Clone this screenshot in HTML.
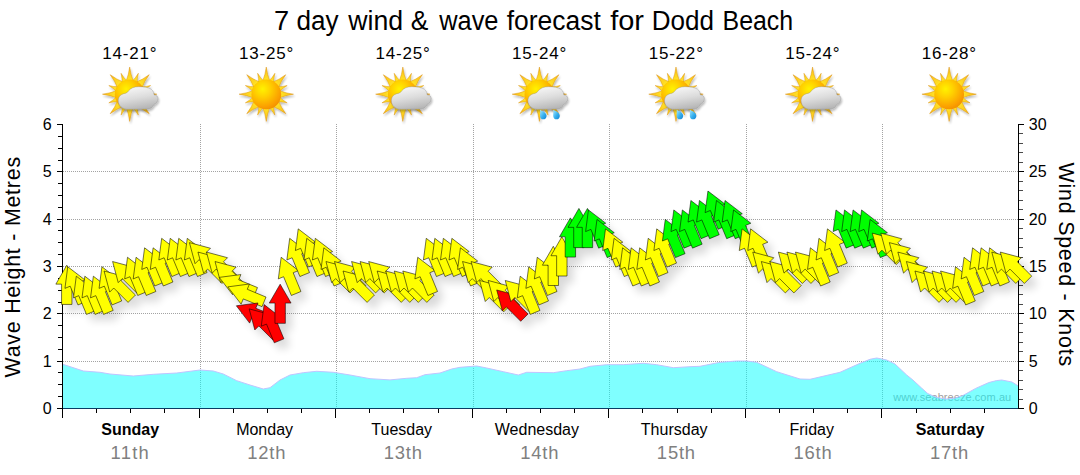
<!DOCTYPE html>
<html><head><meta charset="utf-8"><title>7 day wind &amp; wave forecast for Dodd Beach</title>
<style>html,body{margin:0;padding:0;background:#fff;}body{width:1080px;height:475px;overflow:hidden;font-family:"Liberation Sans",sans-serif;}svg{display:block;}text{font-family:"Liberation Sans",sans-serif;}</style>
</head><body>
<svg width="1080" height="475" viewBox="0 0 1080 475">
<defs>
<filter id="sh" x="-5%" y="-20%" width="110%" height="160%"><feGaussianBlur in="SourceAlpha" stdDeviation="4.5"/><feOffset dx="6" dy="7" result="b"/><feComponentTransfer><feFuncA type="linear" slope="0.15"/></feComponentTransfer><feMerge><feMergeNode/><feMergeNode in="SourceGraphic"/></feMerge></filter>
<radialGradient id="sunG" cx="0.38" cy="0.32" r="0.75"><stop offset="0" stop-color="#fff200"/><stop offset="0.35" stop-color="#ffd000"/><stop offset="0.8" stop-color="#fb9f05"/><stop offset="1" stop-color="#f08c00"/></radialGradient>
<radialGradient id="rayG" cx="0.5" cy="0.5" r="0.5"><stop offset="0.5" stop-color="#ffe428"/><stop offset="0.85" stop-color="#fdc81c"/><stop offset="1" stop-color="#f6a81c"/></radialGradient>
<linearGradient id="cloudG" x1="0.3" y1="0" x2="0.6" y2="1"><stop offset="0" stop-color="#f8f8f8"/><stop offset="0.5" stop-color="#dcdcdc"/><stop offset="1" stop-color="#b4b4b4"/></linearGradient>
<linearGradient id="dropG" x1="0" y1="0" x2="1" y2="1"><stop offset="0" stop-color="#a8e6ff"/><stop offset="0.55" stop-color="#35b0ee"/><stop offset="1" stop-color="#1480d0"/></linearGradient>
<filter id="ish" x="-20%" y="-20%" width="150%" height="150%"><feGaussianBlur in="SourceAlpha" stdDeviation="1"/><feOffset dx="1" dy="1.5" result="b"/><feComponentTransfer><feFuncA type="linear" slope="0.28"/></feComponentTransfer><feMerge><feMergeNode/><feMergeNode in="SourceGraphic"/></feMerge></filter>
<g id="sun"><path d="M3.6 -13 Q1.01 -19.39 0 -27.2 Q-1.01 -19.39 -3.6 -13Z M7.47 -10.98 Q7.33 -15.71 8.65 -20.88 Q5.93 -16.29 2.48 -13.04Z M12.09 -6.29 Q14.65 -13.03 19.52 -19.52 Q13.03 -14.65 6.29 -12.09Z M13.04 -2.48 Q16.29 -5.93 20.88 -8.65 Q15.71 -7.33 10.98 -7.47Z M13 3.6 Q19.39 1.01 27.2 -0 Q19.39 -1.01 13 -3.6Z M10.98 7.47 Q15.71 7.33 20.88 8.65 Q16.29 5.93 13.04 2.48Z M6.29 12.09 Q13.03 14.65 19.52 19.52 Q14.65 13.03 12.09 6.29Z M2.48 13.04 Q5.93 16.29 8.65 20.88 Q7.33 15.71 7.47 10.98Z M-3.6 13 Q-1.01 19.39 0 27.2 Q1.01 19.39 3.6 13Z M-7.47 10.98 Q-7.33 15.71 -8.65 20.88 Q-5.93 16.29 -2.48 13.04Z M-12.09 6.29 Q-14.65 13.03 -19.52 19.52 Q-13.03 14.65 -6.29 12.09Z M-13.04 2.48 Q-16.29 5.93 -20.88 8.65 Q-15.71 7.33 -10.98 7.47Z M-13 -3.6 Q-19.39 -1.01 -27.2 0 Q-19.39 1.01 -13 3.6Z M-10.98 -7.47 Q-15.71 -7.33 -20.88 -8.65 Q-16.29 -5.93 -13.04 -2.48Z M-6.29 -12.09 Q-13.03 -14.65 -19.52 -19.52 Q-14.65 -13.03 -12.09 -6.29Z M-2.48 -13.04 Q-5.93 -16.29 -8.65 -20.88 Q-7.33 -15.71 -7.47 -10.98Z" fill="url(#rayG)" stroke="#d8920c" stroke-width="0.45"/><circle cx="0" cy="0.2" r="14.9" fill="url(#sunG)"/></g>
<path id="cloud" d="M-11.5 6.5 C-11.5 2 -8 -0.5 -4.5 -0.8 C-3 -1.2 -1.8 -2.2 -1.2 -3.3 C0.8 -6 4.5 -7.5 9 -7.5 C14 -7.5 19 -6.8 21.5 -5 C22.8 -4 23.6 -3 23.9 -1.7 L24.4 0.7 C26.8 0.8 28.4 2.4 28.4 4.4 C28.4 7.2 26.5 9.4 24 10.4 C23.4 12.8 21 14.9 17.5 14.9 L-2 15.1 C-7 15.1 -11.5 11.5 -11.5 6.5 Z"/>
<path id="drop" d="M-3.3 -5 C-1 -4 3.3 -2 3.3 1.1 C3.3 3.1 1.8 4.5 0 4.5 C-1.8 4.5 -3.3 3.1 -3.3 1.1 C-3.3 -1.1 -2.9 -2.9 -3.3 -5 Z"/>
</defs>
<g font-size="27" fill="#000">
<text x="273.99" y="29.6" textLength="15.12" lengthAdjust="spacingAndGlyphs">7</text>
<text x="296.43" y="29.6" textLength="42.08" lengthAdjust="spacingAndGlyphs">day</text>
<text x="348.3" y="29.6" textLength="54.88" lengthAdjust="spacingAndGlyphs">wind</text>
<text x="410.72" y="29.6" textLength="17.58" lengthAdjust="spacingAndGlyphs">&amp;</text>
<text x="439.2" y="29.6" textLength="59.24" lengthAdjust="spacingAndGlyphs">wave</text>
<text x="506.7" y="29.6" textLength="94.1" lengthAdjust="spacingAndGlyphs">forecast</text>
<text x="610.2" y="29.6" textLength="33.84" lengthAdjust="spacingAndGlyphs">for</text>
<text x="651.77" y="29.6" textLength="62.28" lengthAdjust="spacingAndGlyphs">Dodd</text>
<text x="722.56" y="29.6" textLength="70.62" lengthAdjust="spacingAndGlyphs">Beach</text>
</g>
<text x="129.5" y="59.1" font-size="17" text-anchor="middle" fill="#000" textLength="54.3" lengthAdjust="spacing">14-21°</text>
<g transform="translate(129.7 94.2)">
<use href="#sun" filter="url(#ish)"/>
<use href="#cloud" fill="url(#cloudG)" stroke="#909090" stroke-width="0.4" filter="url(#ish)"/>
</g>
<text x="266.07" y="59.1" font-size="17" text-anchor="middle" fill="#000" textLength="54.3" lengthAdjust="spacing">13-25°</text>
<g transform="translate(266.27 94.2)">
<use href="#sun" filter="url(#ish)"/>
</g>
<text x="402.64" y="59.1" font-size="17" text-anchor="middle" fill="#000" textLength="54.3" lengthAdjust="spacing">14-25°</text>
<g transform="translate(402.84 94.2)">
<use href="#sun" filter="url(#ish)"/>
<use href="#cloud" fill="url(#cloudG)" stroke="#909090" stroke-width="0.4" filter="url(#ish)"/>
</g>
<text x="539.21" y="59.1" font-size="17" text-anchor="middle" fill="#000" textLength="54.3" lengthAdjust="spacing">15-24°</text>
<g transform="translate(539.41 94.2)">
<use href="#sun" filter="url(#ish)"/>
<use href="#cloud" fill="url(#cloudG)" stroke="#909090" stroke-width="0.4" filter="url(#ish)"/>
<use href="#drop" x="3.9" y="20.6" fill="url(#dropG)"/>
<use href="#drop" x="17.1" y="20.6" fill="url(#dropG)"/>
</g>
<text x="675.79" y="59.1" font-size="17" text-anchor="middle" fill="#000" textLength="54.3" lengthAdjust="spacing">15-22°</text>
<g transform="translate(675.99 94.2)">
<use href="#sun" filter="url(#ish)"/>
<use href="#cloud" fill="url(#cloudG)" stroke="#909090" stroke-width="0.4" filter="url(#ish)"/>
<use href="#drop" x="3.9" y="20.6" fill="url(#dropG)"/>
<use href="#drop" x="17.1" y="20.6" fill="url(#dropG)"/>
</g>
<text x="812.36" y="59.1" font-size="17" text-anchor="middle" fill="#000" textLength="54.3" lengthAdjust="spacing">15-24°</text>
<g transform="translate(812.56 94.2)">
<use href="#sun" filter="url(#ish)"/>
<use href="#cloud" fill="url(#cloudG)" stroke="#909090" stroke-width="0.4" filter="url(#ish)"/>
</g>
<text x="948.93" y="59.1" font-size="17" text-anchor="middle" fill="#000" textLength="54.3" lengthAdjust="spacing">16-28°</text>
<g transform="translate(949.13 94.2)">
<use href="#sun" filter="url(#ish)"/>
</g>
<path d="M63 361.5H1018 M63 313.5H1018 M63 266.5H1018 M63 219.5H1018 M63 171.5H1018 M200.5 124V408 M336.5 124V408 M473.5 124V408 M609.5 124V408 M746.5 124V408 M882.5 124V408" stroke="#8c8c8c" stroke-opacity="0.8" stroke-width="1" stroke-dasharray="1 1" fill="none" shape-rendering="crispEdges"/>
<text x="952.2" y="400.7" font-size="11" text-anchor="middle" fill="#a0a0a0" textLength="118" lengthAdjust="spacing">www.seabreeze.com.au</text>
<polygon points="62,364 83.3,371 100,372.3 110,374 133.3,376 153.3,374.3 176.7,373 200,370 213.3,371 223.3,374 236.7,380.7 250,385 263.3,389 270,387.7 280,380 290,375 303.3,372.7 316.7,371.3 333.3,372.3 350,375 370,378.7 390,379.9 406.7,378.3 416.7,377.7 425,374.7 440,373 451.7,369 460,367.3 476.7,366 486.7,368 503.3,371.7 518.3,375 526.7,372.3 553.3,372.7 566.7,370.7 580,369 590,366.3 606.7,364.7 623.3,364.7 643.3,363.3 656.7,364.7 673.3,367.7 690,366.7 700,366.3 720,362.3 736.7,361 746.7,361 756.7,362.3 776.7,371.7 800,379 810,379.3 840,372.3 860,363.3 870,359.3 876.7,358 886.7,360 895,364 906.7,375 912.9,380 921.3,387.8 927.8,393.6 936.9,397.5 945.9,399.1 955,398.1 962.8,395.6 975.7,388.4 988.7,382.6 996.5,380.6 1001.7,380 1012,382 1018,385.8 1018.5,408.5 62.5,408.5" fill="#00ffff" fill-opacity="0.5"/>
<polyline points="62,364 83.3,371 100,372.3 110,374 133.3,376 153.3,374.3 176.7,373 200,370 213.3,371 223.3,374 236.7,380.7 250,385 263.3,389 270,387.7 280,380 290,375 303.3,372.7 316.7,371.3 333.3,372.3 350,375 370,378.7 390,379.9 406.7,378.3 416.7,377.7 425,374.7 440,373 451.7,369 460,367.3 476.7,366 486.7,368 503.3,371.7 518.3,375 526.7,372.3 553.3,372.7 566.7,370.7 580,369 590,366.3 606.7,364.7 623.3,364.7 643.3,363.3 656.7,364.7 673.3,367.7 690,366.7 700,366.3 720,362.3 736.7,361 746.7,361 756.7,362.3 776.7,371.7 800,379 810,379.3 840,372.3 860,363.3 870,359.3 876.7,358 886.7,360 895,364 906.7,375 912.9,380 921.3,387.8 927.8,393.6 936.9,397.5 945.9,399.1 955,398.1 962.8,395.6 975.7,388.4 988.7,382.6 996.5,380.6 1001.7,380 1012,382 1018,385.8" fill="none" stroke="#c0c4ff" stroke-width="1"/>
<path d="M1019 399.5H1023 M1019 389.5H1023 M1019 380.5H1023 M1019 370.5H1023 M1019 351.5H1023 M1019 342.5H1023 M1019 332.5H1023 M1019 323.5H1023 M1019 304.5H1023 M1019 294.5H1023 M1019 285.5H1023 M1019 275.5H1023 M1019 257.5H1023 M1019 247.5H1023 M1019 238.5H1023 M1019 228.5H1023 M1019 209.5H1023 M1019 200.5H1023 M1019 190.5H1023 M1019 181.5H1023 M1019 162.5H1023 M1019 152.5H1023 M1019 143.5H1023 M1019 133.5H1023" stroke="#4a4a4a" stroke-width="1" fill="none" shape-rendering="crispEdges"/>
<path d="M62.5 124V409 M1018.5 124V409 M62.5 408.5H1018.5 M57 408.5H62.5 M58 396.5H62.5 M58 384.5H62.5 M58 372.5H62.5 M57 361.5H62.5 M58 349.5H62.5 M58 337.5H62.5 M58 325.5H62.5 M57 313.5H62.5 M58 302.5H62.5 M58 290.5H62.5 M58 278.5H62.5 M57 266.5H62.5 M58 254.5H62.5 M58 242.5H62.5 M58 230.5H62.5 M57 219.5H62.5 M58 207.5H62.5 M58 195.5H62.5 M58 183.5H62.5 M57 171.5H62.5 M58 160.5H62.5 M58 148.5H62.5 M58 136.5H62.5 M57 124.5H62.5 M1018.5 408.5H1024 M1018.5 361.5H1024 M1018.5 313.5H1024 M1018.5 266.5H1024 M1018.5 219.5H1024 M1018.5 171.5H1024 M1018.5 124.5H1024 M62.5 408.5V418 M96.5 408.5V413 M130.5 408.5V413 M164.5 408.5V413 M199.5 408.5V418 M233.5 408.5V413 M267.5 408.5V413 M301.5 408.5V413 M335.5 408.5V418 M369.5 408.5V413 M403.5 408.5V413 M438.5 408.5V413 M472.5 408.5V418 M506.5 408.5V413 M540.5 408.5V413 M574.5 408.5V413 M608.5 408.5V418 M642.5 408.5V413 M677.5 408.5V413 M711.5 408.5V413 M745.5 408.5V418 M779.5 408.5V413 M813.5 408.5V413 M847.5 408.5V413 M881.5 408.5V418 M916.5 408.5V413 M950.5 408.5V413 M984.5 408.5V413" stroke="#000" stroke-width="1" fill="none" shape-rendering="crispEdges"/>
<path d="M63 408.5H1018" stroke="#0a3c64" stroke-width="1" fill="none" shape-rendering="crispEdges"/>
<text x="51.6" y="414.1" font-size="16" text-anchor="end" fill="#000">0</text>
<text x="51.6" y="366.77" font-size="16" text-anchor="end" fill="#000">1</text>
<text x="51.6" y="319.43" font-size="16" text-anchor="end" fill="#000">2</text>
<text x="51.6" y="272.1" font-size="16" text-anchor="end" fill="#000">3</text>
<text x="51.6" y="224.77" font-size="16" text-anchor="end" fill="#000">4</text>
<text x="51.6" y="177.43" font-size="16" text-anchor="end" fill="#000">5</text>
<text x="51.6" y="130.1" font-size="16" text-anchor="end" fill="#000">6</text>
<text x="1028.8" y="414.1" font-size="16" text-anchor="start" fill="#000">0</text>
<text x="1028.8" y="366.77" font-size="16" text-anchor="start" fill="#000">5</text>
<text x="1028.8" y="319.43" font-size="16" text-anchor="start" fill="#000">10</text>
<text x="1028.8" y="272.1" font-size="16" text-anchor="start" fill="#000">15</text>
<text x="1028.8" y="224.77" font-size="16" text-anchor="start" fill="#000">20</text>
<text x="1028.8" y="177.43" font-size="16" text-anchor="start" fill="#000">25</text>
<text x="1028.8" y="130.1" font-size="16" text-anchor="start" fill="#000">30</text>
<text transform="translate(20 267.2) rotate(-90)" font-size="21.33" text-anchor="middle" fill="#000" textLength="220.5" lengthAdjust="spacing">Wave Height - Metres</text>
<text transform="translate(1058.8 264.3) rotate(90)" font-size="21.33" text-anchor="middle" fill="#000" textLength="203.5" lengthAdjust="spacing">Wind Speed - Knots</text>
<text x="130.2" y="435.3" font-size="16" text-anchor="middle" fill="#000" font-weight="bold">Sunday</text>
<text x="129.69" y="459" font-size="18.4" text-anchor="middle" fill="#808080" textLength="38.2" lengthAdjust="spacing">11th</text>
<text x="264.6" y="435.3" font-size="16" text-anchor="middle" fill="#000">Monday</text>
<text x="266.26" y="459" font-size="18.4" text-anchor="middle" fill="#808080" textLength="38.2" lengthAdjust="spacing">12th</text>
<text x="401.7" y="435.3" font-size="16" text-anchor="middle" fill="#000">Tuesday</text>
<text x="402.83" y="459" font-size="18.4" text-anchor="middle" fill="#808080" textLength="38.2" lengthAdjust="spacing">13th</text>
<text x="536.9" y="435.3" font-size="16" text-anchor="middle" fill="#000">Wednesday</text>
<text x="539.4" y="459" font-size="18.4" text-anchor="middle" fill="#808080" textLength="38.2" lengthAdjust="spacing">14th</text>
<text x="674.2" y="435.3" font-size="16" text-anchor="middle" fill="#000">Thursday</text>
<text x="675.97" y="459" font-size="18.4" text-anchor="middle" fill="#808080" textLength="38.2" lengthAdjust="spacing">15th</text>
<text x="811.7" y="435.3" font-size="16" text-anchor="middle" fill="#000">Friday</text>
<text x="812.54" y="459" font-size="18.4" text-anchor="middle" fill="#808080" textLength="38.2" lengthAdjust="spacing">16th</text>
<text x="950.1" y="435.3" font-size="16" text-anchor="middle" fill="#000" font-weight="bold">Saturday</text>
<text x="949.11" y="459" font-size="18.4" text-anchor="middle" fill="#808080" textLength="38.2" lengthAdjust="spacing">17th</text>
<g filter="url(#sh)" stroke="#000" stroke-width="0.55" stroke-linejoin="miter">
<polygon points="66.77,265.23 77.67,284.13 71.97,284.13 71.97,304.43 61.57,304.43 61.57,284.13 55.87,284.13" fill="#ffff00"/>
<polygon points="67.76,266.73 85.07,280.02 79.8,282.2 87.57,300.96 77.96,304.94 70.19,286.18 64.93,288.37" fill="#ffff00"/>
<polygon points="76.3,276.2 93.6,289.49 88.34,291.67 96.11,310.43 86.5,314.41 78.73,295.65 73.46,297.83" fill="#ffff00"/>
<polygon points="84.84,276.2 102.14,289.49 96.87,291.67 104.64,310.43 95.03,314.41 87.26,295.65 82,297.83" fill="#ffff00"/>
<polygon points="93.37,276.2 110.67,289.49 105.41,291.67 113.18,310.43 103.57,314.41 95.8,295.65 90.53,297.83" fill="#ffff00"/>
<polygon points="101.91,266.73 119.21,280.02 113.94,282.2 121.71,300.96 112.1,304.94 104.34,286.18 99.07,288.37" fill="#ffff00"/>
<polygon points="104.05,271 125.12,276.66 121.09,280.69 135.45,295.04 128.09,302.4 113.74,288.04 109.71,292.08" fill="#ffff00"/>
<polygon points="112.59,261.54 133.66,267.19 129.63,271.22 143.98,285.58 136.63,292.93 122.28,278.58 118.24,282.61" fill="#ffff00"/>
<polygon points="127.51,257.27 144.82,270.56 139.55,272.74 147.32,291.49 137.71,295.47 129.94,276.72 124.68,278.9" fill="#ffff00"/>
<polygon points="136.05,257.27 153.35,270.56 148.09,272.74 155.86,291.49 146.25,295.47 138.48,276.72 133.21,278.9" fill="#ffff00"/>
<polygon points="144.59,247.8 161.89,261.09 156.62,263.27 164.39,282.03 154.78,286.01 147.01,267.25 141.75,269.43" fill="#ffff00"/>
<polygon points="153.12,247.8 170.42,261.09 165.16,263.27 172.93,282.03 163.32,286.01 155.55,267.25 150.28,269.43" fill="#ffff00"/>
<polygon points="161.66,238.33 178.96,251.62 173.69,253.8 181.46,272.56 171.85,276.54 164.09,257.78 158.82,259.97" fill="#ffff00"/>
<polygon points="170.19,238.33 187.5,251.62 182.23,253.8 190,272.56 180.39,276.54 172.62,257.78 167.36,259.97" fill="#ffff00"/>
<polygon points="178.73,238.33 196.03,251.62 190.77,253.8 198.53,272.56 188.93,276.54 181.16,257.78 175.89,259.97" fill="#ffff00"/>
<polygon points="187.26,238.33 204.57,251.62 199.3,253.8 207.07,272.56 197.46,276.54 189.69,257.78 184.43,259.97" fill="#ffff00"/>
<polygon points="189.41,242.6 210.48,248.26 206.45,252.29 220.8,266.64 213.45,274 199.1,259.64 195.07,263.68" fill="#ffff00"/>
<polygon points="197.94,252.07 219.02,257.73 214.99,261.76 229.34,276.11 221.99,283.47 207.63,269.11 203.6,273.14" fill="#ffff00"/>
<polygon points="206.48,252.07 227.55,257.73 223.52,261.76 237.88,276.11 230.52,283.47 216.17,269.11 212.14,273.14" fill="#ffff00"/>
<polygon points="215.02,261.54 236.09,267.19 232.06,271.22 246.41,285.58 239.06,292.93 224.7,278.58 220.67,282.61" fill="#ffff00"/>
<polygon points="219.28,277.39 240.91,274.56 238.73,279.82 257.49,287.59 253.51,297.2 234.75,289.43 232.57,294.7" fill="#ffff00"/>
<polygon points="227.82,286.86 249.45,284.02 247.27,289.29 266.02,297.06 262.04,306.67 243.29,298.9 241.11,304.16" fill="#ffff00"/>
<polygon points="236.35,305.79 257.99,302.96 255.8,308.22 274.56,315.99 270.58,325.6 251.82,317.83 249.64,323.1" fill="#ff0000"/>
<polygon points="249.16,308.87 270.23,314.53 266.2,318.56 280.55,332.91 273.2,340.27 258.85,325.91 254.82,329.94" fill="#ff0000"/>
<polygon points="264.09,304.6 281.39,317.89 276.12,320.07 283.89,338.83 274.28,342.81 266.51,324.05 261.25,326.23" fill="#ff0000"/>
<polygon points="280.16,284.17 291.06,303.07 285.36,303.07 285.36,323.37 274.96,323.37 274.96,303.07 269.26,303.07" fill="#ff0000"/>
<polygon points="281.16,257.27 298.46,270.56 293.19,272.74 300.96,291.49 291.35,295.47 283.59,276.72 278.32,278.9" fill="#ffff00"/>
<polygon points="289.69,238.33 307,251.62 301.73,253.8 309.5,272.56 299.89,276.54 292.12,257.78 286.86,259.97" fill="#ffff00"/>
<polygon points="298.23,228.87 315.53,242.16 310.27,244.34 318.03,263.09 308.43,267.07 300.66,248.32 295.39,250.5" fill="#ffff00"/>
<polygon points="306.76,238.33 324.07,251.62 318.8,253.8 326.57,272.56 316.96,276.54 309.19,257.78 303.93,259.97" fill="#ffff00"/>
<polygon points="315.3,238.33 332.6,251.62 327.34,253.8 335.11,272.56 325.5,276.54 317.73,257.78 312.46,259.97" fill="#ffff00"/>
<polygon points="323.84,247.8 341.14,261.09 335.87,263.27 343.64,282.03 334.03,286.01 326.26,267.25 321,269.43" fill="#ffff00"/>
<polygon points="325.98,261.54 347.05,267.19 343.02,271.22 357.38,285.58 350.02,292.93 335.67,278.58 331.64,282.61" fill="#ffff00"/>
<polygon points="334.52,261.54 355.59,267.19 351.56,271.22 365.91,285.58 358.56,292.93 344.2,278.58 340.17,282.61" fill="#ffff00"/>
<polygon points="343.05,271 364.12,276.66 360.09,280.69 374.45,295.04 367.09,302.4 352.74,288.04 348.71,292.08" fill="#ffff00"/>
<polygon points="351.59,261.54 372.66,267.19 368.63,271.22 382.98,285.58 375.63,292.93 361.28,278.58 357.24,282.61" fill="#ffff00"/>
<polygon points="360.12,261.54 381.2,267.19 377.16,271.22 391.52,285.58 384.17,292.93 369.81,278.58 365.78,282.61" fill="#ffff00"/>
<polygon points="368.66,261.54 389.73,267.19 385.7,271.22 400.05,285.58 392.7,292.93 378.35,278.58 374.32,282.61" fill="#ffff00"/>
<polygon points="377.19,271 398.27,276.66 394.24,280.69 408.59,295.04 401.24,302.4 386.88,288.04 382.85,292.08" fill="#ffff00"/>
<polygon points="385.73,271 406.8,276.66 402.77,280.69 417.13,295.04 409.77,302.4 395.42,288.04 391.39,292.08" fill="#ffff00"/>
<polygon points="394.27,271 415.34,276.66 411.31,280.69 425.66,295.04 418.31,302.4 403.95,288.04 399.92,292.08" fill="#ffff00"/>
<polygon points="402.8,271 423.87,276.66 419.84,280.69 434.2,295.04 426.84,302.4 412.49,288.04 408.46,292.08" fill="#ffff00"/>
<polygon points="417.73,257.27 435.03,270.56 429.77,272.74 437.53,291.49 427.93,295.47 420.16,276.72 414.89,278.9" fill="#ffff00"/>
<polygon points="426.26,238.33 443.57,251.62 438.3,253.8 446.07,272.56 436.46,276.54 428.69,257.78 423.43,259.97" fill="#ffff00"/>
<polygon points="434.8,238.33 452.1,251.62 446.84,253.8 454.61,272.56 445,276.54 437.23,257.78 431.96,259.97" fill="#ffff00"/>
<polygon points="443.34,238.33 460.64,251.62 455.37,253.8 463.14,272.56 453.53,276.54 445.76,257.78 440.5,259.97" fill="#ffff00"/>
<polygon points="451.87,238.33 469.17,251.62 463.91,253.8 471.68,272.56 462.07,276.54 454.3,257.78 449.03,259.97" fill="#ffff00"/>
<polygon points="460.41,247.8 477.71,261.09 472.44,263.27 480.21,282.03 470.6,286.01 462.84,267.25 457.57,269.43" fill="#ffff00"/>
<polygon points="462.55,261.54 483.62,267.19 479.59,271.22 493.95,285.58 486.59,292.93 472.24,278.58 468.21,282.61" fill="#ffff00"/>
<polygon points="471.09,261.54 492.16,267.19 488.13,271.22 502.48,285.58 495.13,292.93 480.78,278.58 476.74,282.61" fill="#ffff00"/>
<polygon points="479.62,280.47 500.7,286.13 496.66,290.16 511.02,304.51 503.67,311.87 489.31,297.51 485.28,301.54" fill="#ffff00"/>
<polygon points="488.16,280.47 509.23,286.13 505.2,290.16 519.55,304.51 512.2,311.87 497.85,297.51 493.82,301.54" fill="#ffff00"/>
<polygon points="496.69,289.94 517.77,295.59 513.74,299.62 528.09,313.98 520.74,321.33 506.38,306.98 502.35,311.01" fill="#ff0000"/>
<polygon points="505.23,280.47 526.3,286.13 522.27,290.16 536.63,304.51 529.27,311.87 514.92,297.51 510.89,301.54" fill="#ffff00"/>
<polygon points="520.16,276.2 537.46,289.49 532.19,291.67 539.96,310.43 530.35,314.41 522.59,295.65 517.32,297.83" fill="#ffff00"/>
<polygon points="528.69,266.73 546,280.02 540.73,282.2 548.5,300.96 538.89,304.94 531.12,286.18 525.86,288.37" fill="#ffff00"/>
<polygon points="537.23,257.27 554.53,270.56 549.27,272.74 557.03,291.49 547.43,295.47 539.66,276.72 534.39,278.9" fill="#ffff00"/>
<polygon points="553.3,246.3 564.2,265.2 558.5,265.2 558.5,285.5 548.1,285.5 548.1,265.2 542.4,265.2" fill="#ffff00"/>
<polygon points="561.84,236.83 572.74,255.73 567.04,255.73 567.04,276.03 556.64,276.03 556.64,255.73 550.94,255.73" fill="#ffff00"/>
<polygon points="570.38,217.9 581.27,236.8 575.58,236.8 575.58,257.1 565.17,257.1 565.17,236.8 559.48,236.8" fill="#00ff00"/>
<polygon points="578.91,208.43 589.81,227.33 584.11,227.33 584.11,247.63 573.71,247.63 573.71,227.33 568.01,227.33" fill="#00ff00"/>
<polygon points="587.45,208.43 598.35,227.33 592.65,227.33 592.65,247.63 582.25,247.63 582.25,227.33 576.55,227.33" fill="#00ff00"/>
<polygon points="588.44,209.93 605.75,223.22 600.48,225.4 608.25,244.16 598.64,248.14 590.87,229.38 585.61,231.57" fill="#00ff00"/>
<polygon points="596.98,219.4 614.28,232.69 609.02,234.87 616.78,253.63 607.18,257.61 599.41,238.85 594.14,241.03" fill="#00ff00"/>
<polygon points="605.51,228.87 622.82,242.16 617.55,244.34 625.32,263.09 615.71,267.07 607.94,248.32 602.68,250.5" fill="#ffff00"/>
<polygon points="614.05,238.33 631.35,251.62 626.09,253.8 633.86,272.56 624.25,276.54 616.48,257.78 611.21,259.97" fill="#ffff00"/>
<polygon points="622.59,247.8 639.89,261.09 634.62,263.27 642.39,282.03 632.78,286.01 625.01,267.25 619.75,269.43" fill="#ffff00"/>
<polygon points="631.12,247.8 648.42,261.09 643.16,263.27 650.93,282.03 641.32,286.01 633.55,267.25 628.28,269.43" fill="#ffff00"/>
<polygon points="639.66,247.8 656.96,261.09 651.69,263.27 659.46,282.03 649.85,286.01 642.09,267.25 636.82,269.43" fill="#ffff00"/>
<polygon points="648.19,238.33 665.5,251.62 660.23,253.8 668,272.56 658.39,276.54 650.62,257.78 645.36,259.97" fill="#ffff00"/>
<polygon points="656.73,228.87 674.03,242.16 668.77,244.34 676.53,263.09 666.93,267.07 659.16,248.32 653.89,250.5" fill="#ffff00"/>
<polygon points="665.26,219.4 682.57,232.69 677.3,234.87 685.07,253.63 675.46,257.61 667.69,238.85 662.43,241.03" fill="#00ff00"/>
<polygon points="673.8,209.93 691.1,223.22 685.84,225.4 693.61,244.16 684,248.14 676.23,229.38 670.96,231.57" fill="#00ff00"/>
<polygon points="682.34,209.93 699.64,223.22 694.37,225.4 702.14,244.16 692.53,248.14 684.76,229.38 679.5,231.57" fill="#00ff00"/>
<polygon points="690.87,200.47 708.17,213.76 702.91,215.94 710.68,234.69 701.07,238.67 693.3,219.92 688.03,222.1" fill="#00ff00"/>
<polygon points="699.41,200.47 716.71,213.76 711.44,215.94 719.21,234.69 709.6,238.67 701.84,219.92 696.57,222.1" fill="#00ff00"/>
<polygon points="707.94,191 725.25,204.29 719.98,206.47 727.75,225.23 718.14,229.21 710.37,210.45 705.11,212.63" fill="#00ff00"/>
<polygon points="716.48,200.47 733.78,213.76 728.52,215.94 736.28,234.69 726.68,238.67 718.91,219.92 713.64,222.1" fill="#00ff00"/>
<polygon points="725.01,200.47 742.32,213.76 737.05,215.94 744.82,234.69 735.21,238.67 727.44,219.92 722.18,222.1" fill="#00ff00"/>
<polygon points="733.55,209.93 750.85,223.22 745.59,225.4 753.36,244.16 743.75,248.14 735.98,229.38 730.71,231.57" fill="#00ff00"/>
<polygon points="742.09,228.87 759.39,242.16 754.12,244.34 761.89,263.09 752.28,267.07 744.51,248.32 739.25,250.5" fill="#ffff00"/>
<polygon points="750.62,228.87 767.92,242.16 762.66,244.34 770.43,263.09 760.82,267.07 753.05,248.32 747.78,250.5" fill="#ffff00"/>
<polygon points="752.77,252.07 773.84,257.73 769.81,261.76 784.16,276.11 776.81,283.47 762.45,269.11 758.42,273.14" fill="#ffff00"/>
<polygon points="761.3,261.54 782.37,267.19 778.34,271.22 792.7,285.58 785.34,292.93 770.99,278.58 766.96,282.61" fill="#ffff00"/>
<polygon points="769.84,261.54 790.91,267.19 786.88,271.22 801.23,285.58 793.88,292.93 779.53,278.58 775.49,282.61" fill="#ffff00"/>
<polygon points="778.37,252.07 799.45,257.73 795.41,261.76 809.77,276.11 802.42,283.47 788.06,269.11 784.03,273.14" fill="#ffff00"/>
<polygon points="786.91,252.07 807.98,257.73 803.95,261.76 818.3,276.11 810.95,283.47 796.6,269.11 792.57,273.14" fill="#ffff00"/>
<polygon points="795.44,252.07 816.52,257.73 812.49,261.76 826.84,276.11 819.49,283.47 805.13,269.11 801.1,273.14" fill="#ffff00"/>
<polygon points="810.37,247.8 827.67,261.09 822.41,263.27 830.18,282.03 820.57,286.01 812.8,267.25 807.53,269.43" fill="#ffff00"/>
<polygon points="818.91,238.33 836.21,251.62 830.94,253.8 838.71,272.56 829.1,276.54 821.34,257.78 816.07,259.97" fill="#ffff00"/>
<polygon points="827.44,228.87 844.75,242.16 839.48,244.34 847.25,263.09 837.64,267.07 829.87,248.32 824.61,250.5" fill="#ffff00"/>
<polygon points="835.98,209.93 853.28,223.22 848.02,225.4 855.78,244.16 846.18,248.14 838.41,229.38 833.14,231.57" fill="#00ff00"/>
<polygon points="844.51,209.93 861.82,223.22 856.55,225.4 864.32,244.16 854.71,248.14 846.94,229.38 841.68,231.57" fill="#00ff00"/>
<polygon points="853.05,209.93 870.35,223.22 865.09,225.4 872.86,244.16 863.25,248.14 855.48,229.38 850.21,231.57" fill="#00ff00"/>
<polygon points="861.59,209.93 878.89,223.22 873.62,225.4 881.39,244.16 871.78,248.14 864.01,229.38 858.75,231.57" fill="#00ff00"/>
<polygon points="870.12,219.4 887.42,232.69 882.16,234.87 889.93,253.63 880.32,257.61 872.55,238.85 867.28,241.03" fill="#00ff00"/>
<polygon points="872.27,233.14 893.34,238.79 889.31,242.82 903.66,257.18 896.31,264.53 881.95,250.18 877.92,254.21" fill="#ffff00"/>
<polygon points="880.8,233.14 901.87,238.79 897.84,242.82 912.2,257.18 904.84,264.53 890.49,250.18 886.46,254.21" fill="#ffff00"/>
<polygon points="889.34,242.6 910.41,248.26 906.38,252.29 920.73,266.64 913.38,274 899.03,259.64 894.99,263.68" fill="#ffff00"/>
<polygon points="897.87,252.07 918.95,257.73 914.91,261.76 929.27,276.11 921.92,283.47 907.56,269.11 903.53,273.14" fill="#ffff00"/>
<polygon points="906.41,261.54 927.48,267.19 923.45,271.22 937.8,285.58 930.45,292.93 916.1,278.58 912.07,282.61" fill="#ffff00"/>
<polygon points="914.94,271 936.02,276.66 931.99,280.69 946.34,295.04 938.99,302.4 924.63,288.04 920.6,292.08" fill="#ffff00"/>
<polygon points="923.48,271 944.55,276.66 940.52,280.69 954.88,295.04 947.52,302.4 933.17,288.04 929.14,292.08" fill="#ffff00"/>
<polygon points="932.02,271 953.09,276.66 949.06,280.69 963.41,295.04 956.06,302.4 941.7,288.04 937.67,292.08" fill="#ffff00"/>
<polygon points="940.55,271 961.62,276.66 957.59,280.69 971.95,295.04 964.59,302.4 950.24,288.04 946.21,292.08" fill="#ffff00"/>
<polygon points="955.48,266.73 972.78,280.02 967.52,282.2 975.28,300.96 965.68,304.94 957.91,286.18 952.64,288.37" fill="#ffff00"/>
<polygon points="964.01,257.27 981.32,270.56 976.05,272.74 983.82,291.49 974.21,295.47 966.44,276.72 961.18,278.9" fill="#ffff00"/>
<polygon points="972.55,247.8 989.85,261.09 984.59,263.27 992.36,282.03 982.75,286.01 974.98,267.25 969.71,269.43" fill="#ffff00"/>
<polygon points="981.09,247.8 998.39,261.09 993.12,263.27 1000.89,282.03 991.28,286.01 983.51,267.25 978.25,269.43" fill="#ffff00"/>
<polygon points="989.62,247.8 1006.92,261.09 1001.66,263.27 1009.43,282.03 999.82,286.01 992.05,267.25 986.78,269.43" fill="#ffff00"/>
<polygon points="991.77,252.07 1012.84,257.73 1008.81,261.76 1023.16,276.11 1015.81,283.47 1001.45,269.11 997.42,273.14" fill="#ffff00"/>
<polygon points="1000.3,252.07 1021.37,257.73 1017.34,261.76 1031.7,276.11 1024.34,283.47 1009.99,269.11 1005.96,273.14" fill="#ffff00"/>
</g>
</svg>
</body></html>
